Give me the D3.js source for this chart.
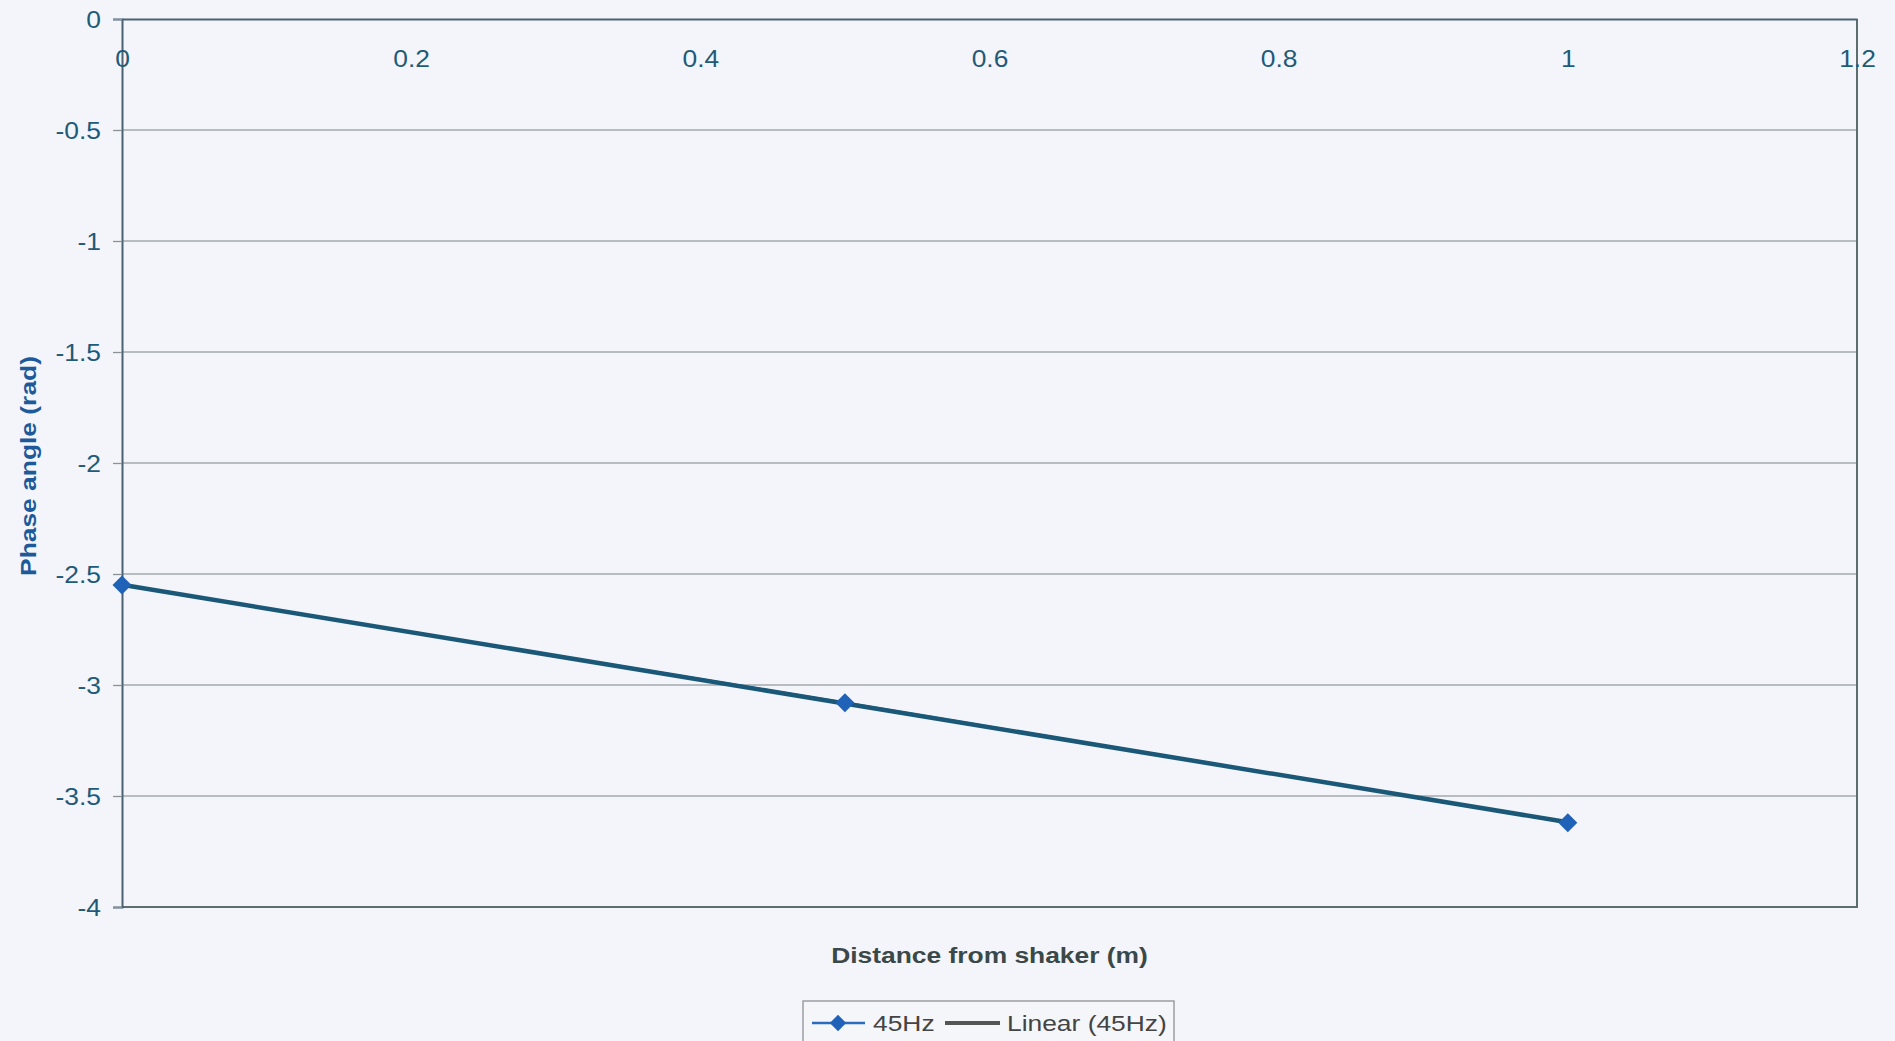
<!DOCTYPE html>
<html>
<head>
<meta charset="utf-8">
<script src="https://cdn.jsdelivr.net/npm/d3@7"></script>
<style>
  html, body { margin: 0; padding: 0; background: #f3f5fa; }
  svg { display: block; }
  text { font-family: "Liberation Sans", Arial, sans-serif; }
</style>
</head>
<body>
<svg id="chart" width="1895" height="1041"></svg>
<script>
// ---- data ----
const distances = [0, 0.5, 1];
const phase45 = [-2.55, -3.08, -3.62];
const xTickValues = [0, 0.2, 0.4, 0.6, 0.8, 1, 1.2];
const xTickLabels = ["0", "0.2", "0.4", "0.6", "0.8", "1", "1.2"];
const yTickValues = [0, -0.5, -1, -1.5, -2, -2.5, -3, -3.5, -4];
const yTickLabels = ["0", "-0.5", "-1", "-1.5", "-2", "-2.5", "-3", "-3.5", "-4"];
const seriesName = "45Hz";
const trendName = "Linear (45Hz)";
const xTitle = "Distance from shaker (m)";
const yTitle = "Phase angle (rad)";

// ---- layout ----
const W = 1895, H = 1041;
const plot = { left: 122, top: 19, right: 1857, bottom: 907 };
const SX = 1.2;   // horizontal text stretch seen in the reference
const TSX = 1.1;  // stretch for tick labels

const svg = d3.select("#chart");
svg.append("rect").attr("width", W).attr("height", H).attr("fill", "#f3f5fa");

const x = d3.scaleLinear().domain([0, 1.2]).range([plot.left, plot.right]);
const y = d3.scaleLinear().domain([0, -4]).range([plot.top, plot.bottom]);

// gridlines
svg.append("g")
  .selectAll("line")
  .data(yTickValues.filter(v => v !== 0 && v !== -4))
  .join("line")
  .attr("x1", plot.left).attr("x2", plot.right)
  .attr("y1", d => y(d)).attr("y2", d => y(d))
  .attr("stroke", "#a2a8ac").attr("stroke-width", 1.3);

// plot border (right & bottom)
svg.append("path")
  .attr("d", `M${plot.right},${plot.top} V${plot.bottom} H${plot.left}`)
  .attr("fill", "none").attr("stroke", "#5b6e6e").attr("stroke-width", 2);

// y axis
const yAxis = d3.axisLeft(y)
  .tickValues(yTickValues)
  .tickFormat((d, i) => yTickLabels[i])
  .tickSize(9).tickPadding(12);
const gy = svg.append("g").attr("transform", `translate(${plot.left},0)`).call(yAxis);
gy.select(".domain").attr("stroke", "#4a6272").attr("stroke-width", 2);
gy.selectAll(".tick line").attr("stroke", "#8a9298").attr("stroke-width", 1.3);
gy.selectAll(".tick text")
  .attr("fill", "#1f5a78")
  .style("font-size", "24px")
  .attr("x", -21 / TSX)
  .attr("dy", "0.34em")
  .attr("transform", `scale(${TSX},1)`);

// x axis (along the top, y = 0)
const xAxis = d3.axisBottom(x)
  .tickValues(xTickValues)
  .tickFormat((d, i) => xTickLabels[i])
  .tickSize(0).tickPadding(0);
const gx = svg.append("g").attr("transform", `translate(0,${y(0)})`).call(xAxis);
gx.select(".domain").attr("stroke", "#4a6272").attr("stroke-width", 2);
gx.selectAll(".tick text")
  .attr("fill", "#1f5a78")
  .style("font-size", "24px")
  .attr("y", 48)
  .attr("dy", "0")
  .attr("transform", `scale(${TSX},1)`)
  .attr("x", 0);

// series line (underneath trend line)
const line = d3.line().x((d, i) => x(distances[i])).y(d => y(d));
svg.append("path")
  .datum(phase45)
  .attr("d", line)
  .attr("fill", "none").attr("stroke", "#2a6cc0").attr("stroke-width", 2.5);

// linear trendline (least squares)
const n = distances.length;
const mx = d3.mean(distances), my = d3.mean(phase45);
let sxy = 0, sxx = 0;
for (let i = 0; i < n; i++) { sxy += (distances[i] - mx) * (phase45[i] - my); sxx += (distances[i] - mx) ** 2; }
const slope = sxy / sxx, intercept = my - slope * mx;
const xMin = d3.min(distances), xMax = d3.max(distances);
svg.append("line")
  .attr("x1", x(xMin)).attr("y1", y(intercept + slope * xMin))
  .attr("x2", x(xMax)).attr("y2", y(intercept + slope * xMax))
  .attr("stroke", "#1b5878").attr("stroke-width", 4.5);

// markers
const diamond = d3.symbol().type(d3.symbolDiamond2).size(230);
svg.append("g")
  .selectAll("path")
  .data(phase45)
  .join("path")
  .attr("d", diamond)
  .attr("transform", (d, i) => `translate(${x(distances[i])},${y(d)})`)
  .attr("fill", "#1f62b8");

// axis titles
svg.append("text")
  .attr("transform", `translate(${(plot.left + plot.right) / 2},963) scale(${SX},1)`)
  .attr("text-anchor", "middle")
  .attr("fill", "#3b4848")
  .style("font-size", "22px").style("font-weight", "bold")
  .text(xTitle);

svg.append("text")
  .attr("transform", `translate(36,${(plot.top + plot.bottom) / 2 + 3}) rotate(-90) scale(${SX},1)`)
  .attr("text-anchor", "middle")
  .attr("fill", "#1d5a9a")
  .style("font-size", "22px").style("font-weight", "bold")
  .text(yTitle);

// legend
const lg = svg.append("g");
lg.append("rect")
  .attr("x", 803).attr("y", 1001).attr("width", 371).attr("height", 60)
  .attr("fill", "#f5f6fa").attr("stroke", "#9a9ea2").attr("stroke-width", 1.5);
lg.append("line").attr("x1", 812).attr("x2", 865).attr("y1", 1023).attr("y2", 1023)
  .attr("stroke", "#2a6cc0").attr("stroke-width", 2.5);
lg.append("path").attr("d", d3.symbol().type(d3.symbolDiamond2).size(170)).attr("transform", "translate(838,1023)").attr("fill", "#1f62b8");
lg.append("text")
  .attr("transform", `translate(873,1031) scale(${SX},1)`)
  .attr("fill", "#444").style("font-size", "22px")
  .text(seriesName);
lg.append("line").attr("x1", 945).attr("x2", 1000).attr("y1", 1023).attr("y2", 1023)
  .attr("stroke", "#555").attr("stroke-width", 4);
lg.append("text")
  .attr("transform", `translate(1007,1031) scale(${SX},1)`)
  .attr("fill", "#444").style("font-size", "22px")
  .text(trendName);
</script>
</body>
</html>
